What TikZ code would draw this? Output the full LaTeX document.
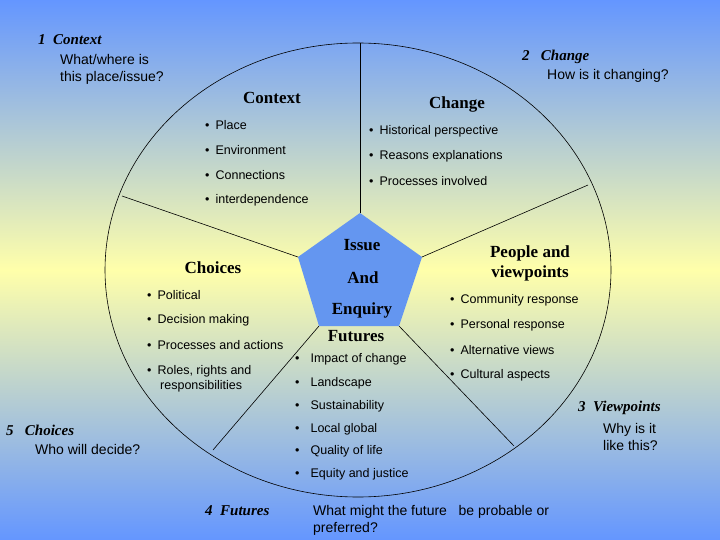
\documentclass[tikz,border=0pt]{standalone}
\usepackage{fontspec}
\setmainfont{Liberation Sans}
\newfontfamily\serifb{Liberation Serif}
\begin{document}
\begin{tikzpicture}[x=1pt,y=-1pt,
  body/.style={anchor=west,inner sep=0pt,font=\fontsize{12.5}{15}\selectfont},
  head/.style={inner sep=0pt,font=\fontsize{17}{20}\selectfont\serifb\bfseries},
  corner/.style={anchor=west,inner sep=0pt,font=\fontsize{15}{18}\selectfont\serifb\bfseries\itshape},
  sub/.style={anchor=west,inner sep=0pt,font=\fontsize{14}{17}\selectfont,align=left},
  spoke/.style={draw=black,line width=0.6pt}]
\definecolor{bgblue}{RGB}{100,150,255}
\definecolor{bgyel}{RGB}{255,255,170}
\definecolor{pent}{RGB}{100,150,240}
\shade[top color=bgblue,bottom color=bgblue,middle color=bgyel] (0,0) rectangle (720,540);
\useasboundingbox (0,0) rectangle (720,540);
\draw[line width=0.6pt] (358,270) ellipse [x radius=253, y radius=227];
\coordinate (pt) at (360,213); \coordinate (pl) at (298,257); \coordinate (pr) at (422,257);
\coordinate (pbl) at (319,326); \coordinate (pbr) at (399,326);
\fill[pent] (pt) -- (pr) -- (pbr) -- (pbl) -- (pl) -- cycle;
\coordinate (ot) at (360,43); \coordinate (ol) at (122,196); \coordinate (or) at (588,185);
\coordinate (obl) at (213,450); \coordinate (obr) at (514,446);
\draw[spoke] (pt) -- (ot); \draw[spoke] (pl) -- (ol); \draw[spoke] (pr) -- (or);
\draw[spoke] (pbl) -- (obl); \draw[spoke] (pbr) -- (obr);
% corners
\node[corner] (c1) at (38,40) {1\ \ Context};
\node[sub] (c1t) at (60,69) {What/where is\\this place/issue?};
\node[corner] (c2) at (522,57) {2\ \ \ Change};
\node[sub] (c2t) at (547,76) {How is it changing?};
\node[corner] (c3) at (578,408) {3\ \ Viewpoints};
\node[sub] (c3t) at (603,437) {Why is it\\like this?};
\node[corner] (c5) at (6,430) {5\ \ \ Choices};
\node[sub] (c5t) at (35,449) {Who will decide?};
\node[corner] (c4) at (205,511) {4\ \ Futures};
\node[sub] (c4t) at (313,520) {What might the future\ \ \ be probable or\\preferred?};
% headings
\node[head] (hctx) at (272,98) {Context};
\node[head] (hchg) at (457,104) {Change};
\node[head] (hiss) at (362,245) {Issue};
\node[head] (hand) at (363,278) {And};
\node[head] (henq) at (362,310) {Enquiry};
\node[head] (hfut) at (356,336) {Futures};
\node[head] (hcho) at (213,268) {Choices};
\node[head,align=center] (hpv) at (530,263) {People and\\viewpoints};
% bullets
\foreach \t [count=\i] in {Place,Environment,Connections,interdependence}
  \node[body] (a\i) at (205,100+25*\i) {•\hspace{6pt}\t};
\foreach \t [count=\i] in {Historical perspective,Reasons explanations,Processes involved}
  \node[body] (b\i) at (369,106+25*\i) {•\hspace{6pt}\t};
\foreach \t [count=\i] in {Political,Decision making,Processes and actions}
  \node[body] (d\i) at (147,270+25*\i) {•\hspace{6pt}\t};
\node[body,align=left] (d4) at (147,379) {•\hspace{6pt}Roles, rights and\\\hspace{13pt}responsibilities};
\foreach \t [count=\i] in {Community response,Personal response,Alternative views,Cultural aspects}
  \node[body] (e\i) at (450,275+25*\i) {•\hspace{6pt}\t};
\foreach \t/\y [count=\i] in {Impact of change/359,Landscape/383,Sustainability/406,Local global/429,Quality of life/451,Equity and justice/474}
  \node[body] (f\i) at (295,\y) {•\hspace{11pt}\t};
\end{tikzpicture}
\end{document}
